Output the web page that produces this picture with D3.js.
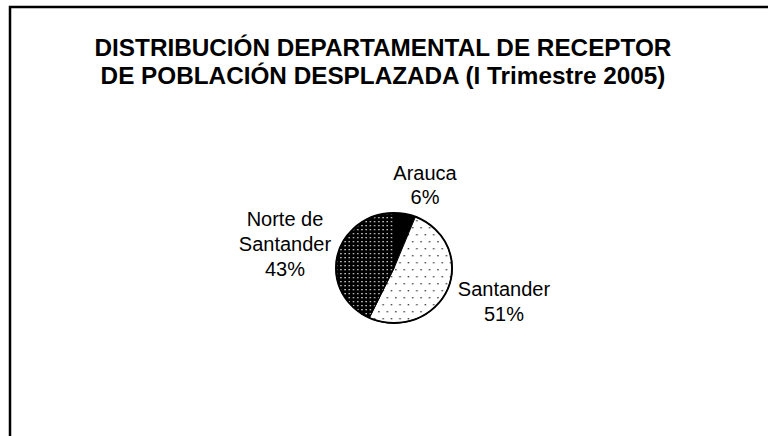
<!DOCTYPE html>
<html>
<head>
<meta charset="utf-8">
<script src="https://cdn.jsdelivr.net/npm/d3@7"></script>
<style>
body{margin:0;background:#fff}
text{font-family:"Liberation Sans",Arial,sans-serif;fill:#000}
</style>
</head>
<body>
<script>
// data
var titleLines = ["DISTRIBUCIÓN DEPARTAMENTAL DE RECEPTOR", "DE POBLACIÓN DESPLAZADA (I Trimestre 2005)"]
var departments = ["Arauca", "Santander", "Norte de Santander"]
var shares = [6, 51, 43]
var labelLines = [["Arauca", "6%"], ["Santander", "51%"], ["Norte de", "Santander", "43%"]]

var width = 768, height = 436
var cx = 394, cy = 268, r = 55
// label anchor offsets from pie centre (x, first baseline)
var labelOff = [[31, -88], [110, 28], [-109, -42]]
var lineH = [24, 25, 25]

var svg = d3.select("body").append("svg")
	.attr("width", width)
	.attr("height", height)

var defs = svg.append("defs")
var p1 = defs.append("pattern").attr("id", "dotsLight")
	.attr("patternUnits", "userSpaceOnUse").attr("width", 8).attr("height", 14)
p1.append("rect").attr("width", 8).attr("height", 14).attr("fill", "#fff")
p1.append("rect").attr("x", 1).attr("y", 1).attr("width", 1.4).attr("height", 1.4).attr("fill", "#444")
p1.append("rect").attr("x", 5).attr("y", 8).attr("width", 1.4).attr("height", 1.4).attr("fill", "#444")

var p2 = defs.append("pattern").attr("id", "dotsDark")
	.attr("patternUnits", "userSpaceOnUse").attr("width", 4).attr("height", 4)
p2.append("rect").attr("width", 4).attr("height", 4).attr("fill", "#000")
p2.append("rect").attr("x", 1).attr("y", 1).attr("width", 1.3).attr("height", 1.3).attr("fill", "#ddd")

var fill = d3.scaleOrdinal()
	.domain(departments)
	.range(["#000", "url(#dotsLight)", "url(#dotsDark)"])

// frame (runs off right / bottom like the source)
svg.append("rect")
	.attr("x", 10).attr("y", 7)
	.attr("width", 900).attr("height", 600)
	.attr("fill", "none").attr("stroke", "#000").attr("stroke-width", 2.5)

svg.append("g").selectAll("text")
	.data(titleLines)
	.enter().append("text")
	.attr("x", 383)
	.attr("y", function(d, i){return 56 + i * 28})
	.attr("text-anchor", "middle")
	.attr("font-weight", "bold")
	.attr("font-size", 24.3)
	.text(function(d){return d})

var pie = d3.pie().sort(null).value(function(d){return d})
var arc = d3.arc().innerRadius(0).outerRadius(r)
var arcs = pie(shares)

var g = svg.append("g").attr("transform", "translate(" + cx + "," + cy + ") scale(1.055,1)")
g.selectAll("path")
	.data(arcs)
	.enter().append("path")
	.attr("d", arc)
	.attr("fill", function(d, i){return fill(departments[i])})
	.attr("stroke", function(d, i){return i == 0 ? "none" : "#000"})
	.attr("stroke-width", 1)
g.append("circle").attr("r", r).attr("fill", "none").attr("stroke", "#000").attr("stroke-width", 1.8)

var lab = svg.append("g")
lab.selectAll("g")
	.data(labelLines)
	.enter().append("g")
	.each(function(lines, i){
		d3.select(this).selectAll("text")
			.data(lines)
			.enter().append("text")
			.attr("x", cx + labelOff[i][0])
			.attr("y", function(d, j){return cy + labelOff[i][1] + j * lineH[i]})
			.attr("text-anchor", "middle")
			.attr("font-size", 20)
			.text(function(d){return d})
	})
</script>
</body>
</html>
